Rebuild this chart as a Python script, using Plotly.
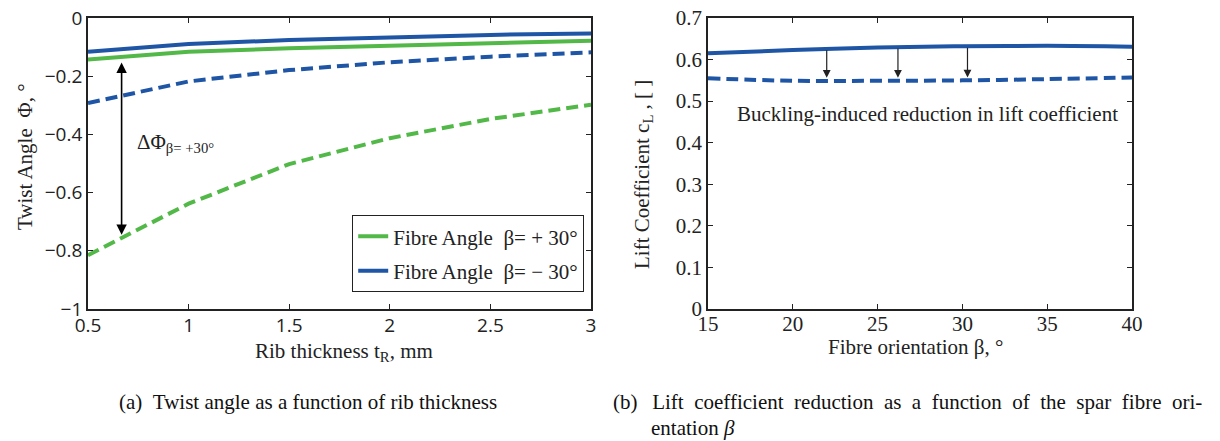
import plotly.graph_objects as go

# ---------------- data ----------------
rib_thickness = [0.5, 1.0, 1.5, 2.0, 2.5, 3.0]
twist_pos30_linear = [-0.143, -0.116, -0.104, -0.095, -0.086, -0.078]
twist_neg30_linear = [-0.116, -0.089, -0.076, -0.066, -0.058, -0.053]
twist_pos30_buckled = [-0.815, -0.638, -0.502, -0.413, -0.347, -0.298]
twist_neg30_buckled = [-0.292, -0.218, -0.179, -0.152, -0.133, -0.118]

fibre_orientation = [15, 20, 25, 30, 35, 40]
lift_unbuckled = [0.615, 0.623, 0.629, 0.632, 0.633, 0.631]
lift_buckled = [0.555, 0.549, 0.549, 0.550, 0.553, 0.557]

left_xticks = [0.5, 1, 1.5, 2, 2.5, 3]
left_yticks = [0, -0.2, -0.4, -0.6, -0.8, -1]
right_xticks = [15, 20, 25, 30, 35, 40]
right_yticks = [0, 0.1, 0.2, 0.3, 0.4, 0.5, 0.6, 0.7]

# annotation anchors (data coordinates)
delta_arrow_x = 0.667
delta_arrow_y = [-0.148, -0.745]
lift_arrow_x = [22.0, 26.2, 30.3]
lift_arrow_top = [0.626, 0.630, 0.632]
lift_arrow_tip = [0.556, 0.556, 0.557]

GREEN = "#52B848"
BLUE = "#1F55A5"
SERIF = "Liberation Serif"
SANS = "Open Sans"
W, H = 1220, 441
FS = 21

fig = go.Figure()

fig.add_trace(go.Scatter(x=rib_thickness, y=twist_pos30_buckled, mode="lines",
                         line=dict(color=GREEN, width=4, dash="12px,6px"),
                         showlegend=False, xaxis="x", yaxis="y"))
fig.add_trace(go.Scatter(x=rib_thickness, y=twist_neg30_buckled, mode="lines",
                         line=dict(color=BLUE, width=4, dash="12px,6px"),
                         showlegend=False, xaxis="x", yaxis="y"))
fig.add_trace(go.Scatter(x=rib_thickness, y=twist_pos30_linear, mode="lines",
                         line=dict(color=GREEN, width=4),
                         name="Fibre Angle\u2002\u03b2= + 30°", legendgroup="a",
                         xaxis="x", yaxis="y"))
fig.add_trace(go.Scatter(x=rib_thickness, y=twist_neg30_linear, mode="lines",
                         line=dict(color=BLUE, width=4),
                         name="Fibre Angle\u2002\u03b2= \u2212 30°", legendgroup="b",
                         xaxis="x", yaxis="y"))

fig.add_trace(go.Scatter(x=fibre_orientation, y=lift_unbuckled, mode="lines",
                         line=dict(color=BLUE, width=4, shape="spline"),
                         showlegend=False, xaxis="x2", yaxis="y2"))
fig.add_trace(go.Scatter(x=fibre_orientation, y=lift_buckled, mode="lines",
                         line=dict(color=BLUE, width=4, dash="12px,6px", shape="spline"),
                         showlegend=False, xaxis="x2", yaxis="y2"))


def px_x(p):
    return p / W


def px_y(p):
    return 1 - p / H


ydom = [px_y(309), px_y(18)]
axis_common = dict(showline=True, linecolor="#222", linewidth=1.8, mirror="ticks",
                   ticks="inside", ticklen=5, tickcolor="#222", tickwidth=1,
                   showgrid=False, zeroline=False, automargin=False)

fig.update_layout(
    template="none",
    width=W, height=H,
    margin=dict(l=0, r=0, t=0, b=0, pad=0, autoexpand=False),
    paper_bgcolor="white", plot_bgcolor="white",
    xaxis=dict(domain=[px_x(88), px_x(591)], range=[0.5, 3], tickvals=left_xticks,
               ticklabelstandoff=-2,
               tickfont=dict(family=SANS, size=19, color="#222"), anchor="y", **axis_common),
    yaxis=dict(domain=ydom, range=[-1, 0], tickvals=left_yticks,
               tickfont=dict(family=SANS, size=19, color="#222"), anchor="x", **axis_common),
    xaxis2=dict(domain=[px_x(708), px_x(1132)], range=[15, 40], tickvals=right_xticks,
                ticklabelstandoff=-5,
                tickfont=dict(family=SERIF, size=FS, color="#222"), anchor="y2", **axis_common),
    yaxis2=dict(domain=ydom, range=[0, 0.7], tickvals=right_yticks,
                tickfont=dict(family=SERIF, size=FS, color="#222"), anchor="x2", **axis_common),
    legend=dict(x=px_x(584), y=px_y(292), xanchor="right", yanchor="bottom",
                bordercolor="#222", borderwidth=1.2, bgcolor="white",
                font=dict(family=SERIF, size=FS, color="#222"), tracegroupgap=4),
    showlegend=True,
)


def paper_text(text, x, y, angle=0, xanchor="center", color="#222"):
    return dict(text=text, x=px_x(x), y=px_y(y), xref="paper", yref="paper",
                xanchor=xanchor, yanchor="middle", textangle=angle, showarrow=False,
                font=dict(family=SERIF, size=FS, color=color))


caption_b = "\u2002".join("Lift coefficient reduction as a function of the spar fibre ori-".split(" "))

annotations = [
    paper_text("Twist Angle\u2002\u03a6, °", 25, 157, angle=-90),
    paper_text("Rib thickness t<sub>R</sub>, mm", 344, 352),
    paper_text("Lift Coefficient c<sub>L</sub> , [ ]", 643, 175, angle=-90),
    paper_text("Fibre orientation \u03b2, °", 915, 347),
    paper_text("(a)\u2002Twist angle as a function of rib thickness", 117, 402,
               xanchor="left", color="#111"),
    paper_text("(b)\u2002\u2009" + caption_b, 611, 402, xanchor="left", color="#111"),
    paper_text("entation <i>\u03b2</i>", 649, 428, xanchor="left", color="#111"),
]
# left double arrow + label
annotations.append(dict(x=delta_arrow_x, y=delta_arrow_y[1], ax=delta_arrow_x, ay=delta_arrow_y[0],
                        xref="x", yref="y", axref="x", ayref="y", text="",
                        showarrow=True, arrowside="end+start", arrowhead=2,
                        arrowsize=1.3, arrowwidth=1.6, arrowcolor="black"))
annotations.append(dict(text="\u0394\u03a6<sub>\u03b2= +30°</sub>", x=0.735, y=-0.43,
                        xref="x", yref="y", xanchor="left", yanchor="middle", showarrow=False,
                        font=dict(family=SERIF, size=FS, color="#222")))
# right arrows + label
for ax_, top_, tip_ in zip(lift_arrow_x, lift_arrow_top, lift_arrow_tip):
    annotations.append(dict(x=ax_, y=tip_, ax=ax_, ay=top_,
                            xref="x2", yref="y2", axref="x2", ayref="y2", text="",
                            showarrow=True, arrowhead=2, arrowsize=1.3,
                            arrowwidth=1.2, arrowcolor="#222"))
annotations.append(dict(text="Buckling-induced reduction in lift coefficient", x=27.97, y=0.469,
                        xref="x2", yref="y2", xanchor="center", yanchor="middle", showarrow=False,
                        font=dict(family=SERIF, size=FS, color="#222")))

fig.update_layout(annotations=annotations)
fig.write_html("out.html")
